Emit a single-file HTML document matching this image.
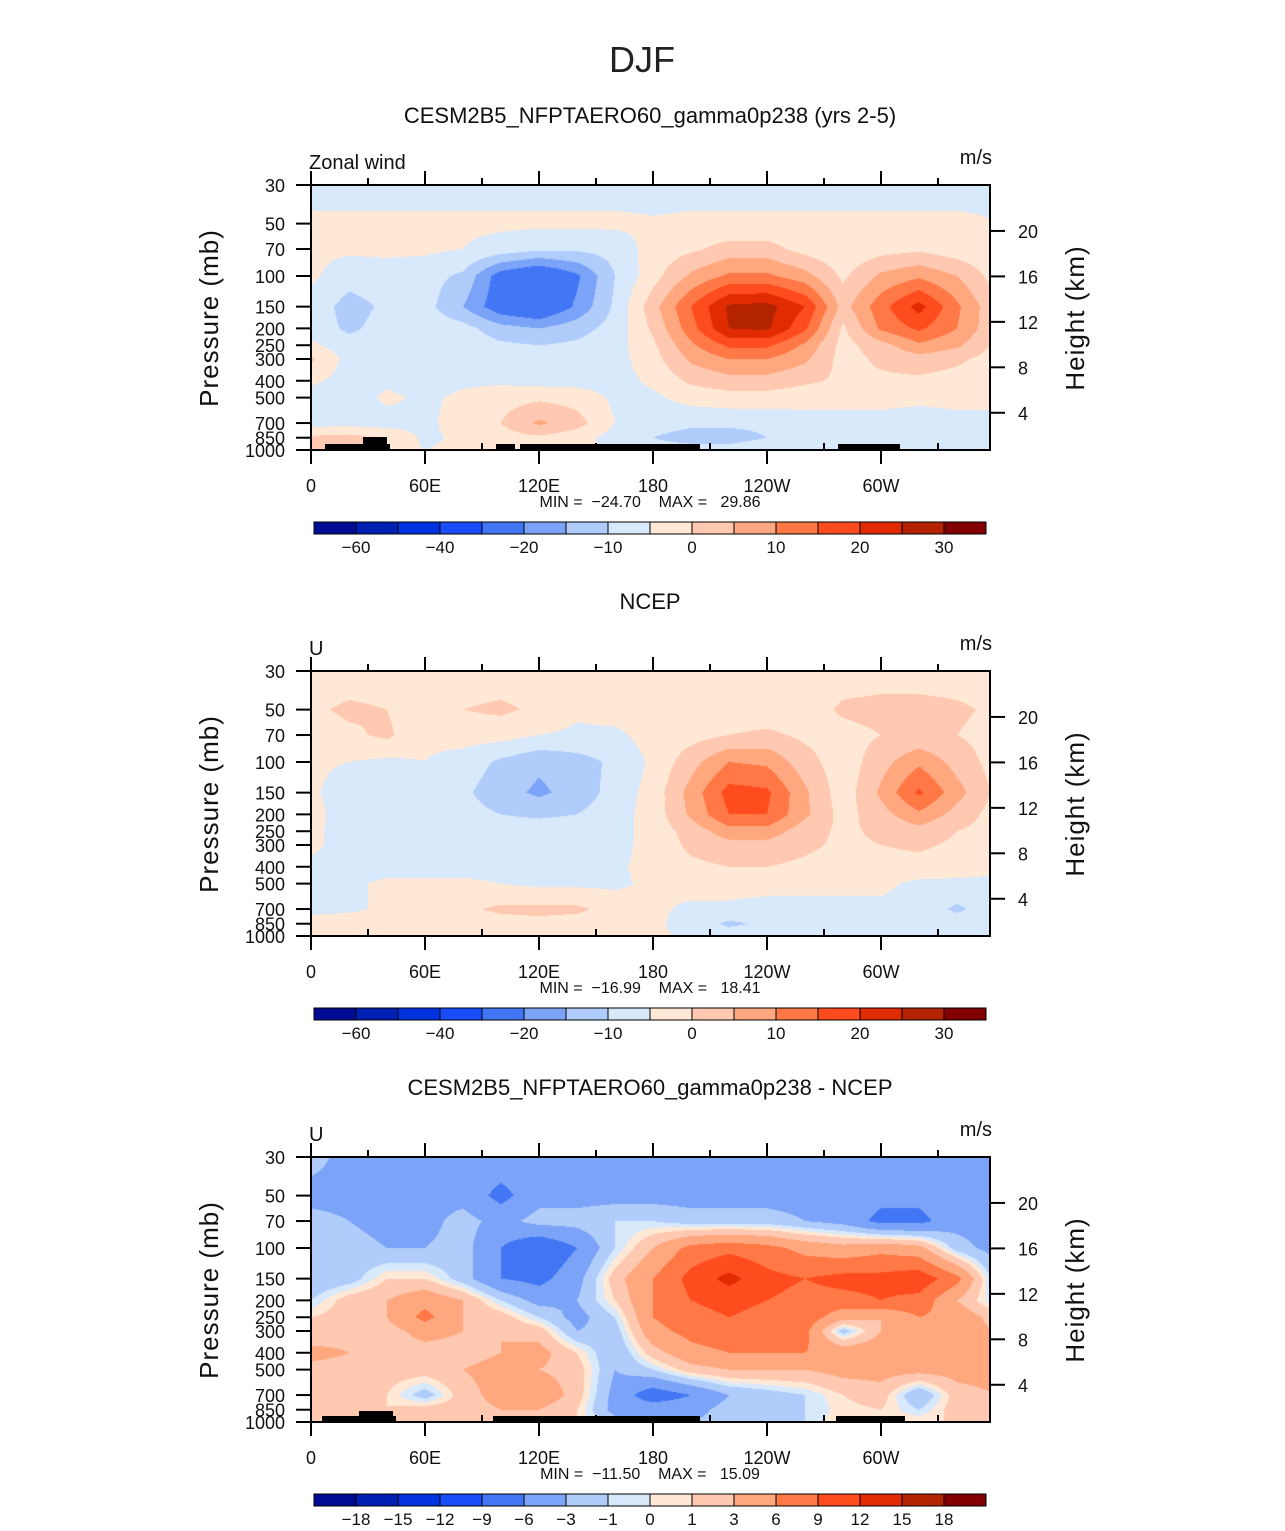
<!DOCTYPE html>
<html><head><meta charset="utf-8">
<style>
body{margin:0;background:#fff;}
#wrap{position:relative;width:1285px;height:1531px;overflow:hidden;font-family:"Liberation Sans",sans-serif;}
svg text{font-family:"Liberation Sans",sans-serif;}
</style></head>
<body>
<div id="wrap">
<svg id="fig" width="1285" height="1531" xmlns="http://www.w3.org/2000/svg" style="position:absolute;left:0;top:0">
<text x="642" y="72" font-size="36" text-anchor="middle" fill="#222" font-weight="300">DJF</text>
</svg>
</div>
<script>
const lons=[0,20,40,60,80,100,120,140,160,180,200,220,240,260,280,300,320,340,360];
const plevs=[30,50,70,100,150,200,250,300,400,500,700,850,1000];
const pressureTicks=[30,50,70,100,150,200,250,300,400,500,700,850,1000];
const heightTicks=[20,16,12,8,4];
const lonTickVals=[0,60,120,180,240,300];
const lonTickLabels=["0","60E","120E","180","120W","60W"];
const levelsFull=[-60,-50,-40,-30,-20,-15,-10,-5,0,5,10,15,20,25,30];
const labelsFull=["-60","","-40","","-20","","-10","","0","","10","","20","","30"];
const levelsDiff=[-18,-15,-12,-9,-6,-3,-1,0,1,3,6,9,12,15,18];
const labelsDiff=["-18","-15","-12","-9","-6","-3","-1","0","1","3","6","9","12","15","18"];
const colors=["#000c94","#0020b4","#0033e0","#1a4dfa","#4276f5","#7ba3f7","#b0ccfa","#d8e9fc","#ffe8d6","#ffc8b0","#ffa880","#ff7845","#ff4c1e","#e02c00","#b42300","#820000"];
const modelU=[
[-7,-7,-7,-7,-7,-7,-7,-7,-7,-7,-7,-7,-7,-7,-7,-7,-7,-7,-6],
[-4,-4,-4,-4,-4,-4,-4,-4,-4,-4.5,-4,-4,-4,-4,-4,-4,-4,-4,-5],
[-4,-4,-4,-4,-5,-7,-9,-9,-8,-3,-1,2,2,-2,-4,-2,-1,-3,-4],
[-4,-8,-7,-8,-11,-23,-27,-21,-10,-2,6,11,11,7,-1,6,9,5,-2],
[-7,-12,-9,-8,-15,-24,-27,-19,-9,3,15,26,27,20,3,13,22,11,1],
[-7,-11,-8,-7,-8,-13,-15,-12,-8,1,13,25,26,16,-1,11,16,10,1],
[-4,-8,-7,-7,-7,-9,-10,-9,-7,-1,9,16,16,9,-2,3,9,6,-1],
[1,-7,-7,-7,-7,-7,-7,-7,-7,-2,6,10,10,6,-2,1,3,1,-2],
[-4,-7,-6,-7,-6,-6,-7,-7,-7,-4,1,3,3,1,-1,-1,-1,-2,-3],
[-7,-8,-4,-6,-4,-2,-1,-2,-6,-6,-3,-2,-2,-3,-4,-4,-4,-4,-4],
[-7,-7,-7,-6,-3,0,6,2,-5,-8,-9,-9,-9,-7,-6,-6,-7,-6,-6],
[1,2,-1,-6,-4,-2,-1,-3,-7,-10,-12,-12,-10,-7,-6,-6,-6,-6,-6],
[1,1,-3,-5,-4,-4,-3,-4,-6,-8,-8,-8,-7,-6,-6,-6,-6,-6,-6]];
const ncepU=[
[-3,-3,-3,-3,-3,-3,-3,-3,-3,-3,-3,-3,-3,-3,-3,-3,-3,-3,-3],
[-1,1,0,-4,0,1,-1,-4,-3,-3,-3,-3,-3,-3,1,2,2,1,-1],
[-3,-1,1,-4,-3,-3,-5,-6,-6,-3,-2,0,1,-1,-2,0,1,0,-2],
[-4,-5,-6,-5,-7,-11,-14,-12,-9,-4,3,10,9,2,-3,3,9,3,-2],
[-4,-8,-8,-7,-9,-13,-16,-13,-8,-3,7,17,16,6,-3,6,16,7,-1],
[-3,-8,-7,-7,-8,-10,-11,-10,-7,-3,6,15,15,6,-2,3,9,3,-2],
[-4,-7,-7,-7,-7,-7,-7,-7,-7,-3,2,8,8,2,-1,1,3,0,-2],
[-4,-7,-7,-7,-7,-7,-7,-7,-7,-3,1,3,3,1,-1,0,1,-1,-3],
[-6,-7,-7,-7,-7,-7,-7,-7,-6,-3,-1,0,0,-1,-2,-2,-2,-3,-4],
[-6,-6,-4,-4,-4,-5,-6,-6,-6,-4,-3,-3,-3,-4,-4,-4,-6,-6,-6],
[-7,-6,-4,-3,-1,1,1,1,-2,-4,-6,-6,-7,-6,-6,-6,-7,-11,-7],
[-2,-2,-3,-3,-2,-2,-1,-2,-4,-4,-7,-11,-9,-7,-7,-8,-7,-7,-7],
[-4,-3,-4,-4,-4,-4,-4,-4,-4,-4,-6,-7,-7,-6,-6,-6,-6,-6,-6]];
const diffU=[
[-2,-4,-4,-4,-4,-4,-4,-4,-4,-4,-4,-4,-4,-4,-4,-4,-4,-4,-4],
[-4,-4,-4,-4,-4,-7,-4,-4,-4,-4,-4,-4,-4,-4,-4,-5,-5,-4,-4],
[-2,-3,-4,-4,-2,-4,-2,-2,-1,-1,-2,-2,-2,-3,-4,-7,-7,-4,-4],
[-3,-2,-3,-3,-2,-6,-9,-6,-1,3,7,8,7,5,4,5,4,-2,-4],
[-3,-2,1,1,-2,-6,-7,-4,2,6,10,13,10,9,10,10,11,7,-2],
[-1,2,3,5,3,-1,-4,-3,1,6,9,10,9,8,8,9,8,3,-1],
[1,2,3,7,3,2,-1,-4,-1,6,8,9,8,8,4,3,6,5,2],
[1,2,2,4,3,3,2,-3,-2,5,7,8,8,7,-2,3,5,4,3],
[4,3,2,2,2,3,4,1,-3,2,5,6,6,6,5,5,5,4,4],
[2,2,2,2,3,4,3,2,-3,-1,2,3,3,3,4,4,4,4,4],
[2,1,1,-2,2,4,5,2,-4,-8,-6,-3,-2,-1,1,2,-3,2,3],
[2,1,1,2,2,3,3,1,-4,-4,-4,-2,-2,-1,0.5,1,-1,2,2],
[2,1,1,1,1,1,1,1,-2,-3,-3,-2,-2,-1,1,1,1,1,1]];

const svg=document.getElementById('fig');
const NS='http://www.w3.org/2000/svg';
const X0=311,X1=990,PW=679,PH=265;
function xOf(lon){return X0+lon*1.9;}
function yOf(p,top){return top+PH*Math.log(p/30)/Math.log(1000/30);}
function el(tag,attrs,parent){const e=document.createElementNS(NS,tag);for(const k in attrs)e.setAttribute(k,attrs[k]);(parent||svg).appendChild(e);return e;}
function txt(x,y,s,size,anchor,parent){const t=el('text',{x:x,y:y,'font-size':size,'text-anchor':anchor||'middle',fill:'#111'},parent);t.textContent=s;return t;}
function colorFor(v,levels){let i=0;while(i<levels.length&&v>=levels[i])i++;return colors[i];}
function interp(field,lon,p){
  let i=Math.min(lons.length-2,Math.max(0,Math.floor(lon/20)));let fx=(lon-lons[i])/20;fx=Math.max(0,Math.min(1,fx));
  let j=0;while(j<plevs.length-2&&p>plevs[j+1])j++;
  let fy=(Math.log(p)-Math.log(plevs[j]))/(Math.log(plevs[j+1])-Math.log(plevs[j]));fy=Math.max(0,Math.min(1,fy));
  const a=field[j][i],b=field[j][i+1],c=field[j+1][i],d=field[j+1][i+1];
  return (a*(1-fx)+b*fx)*(1-fy)+(c*(1-fx)+d*fx)*fy;}

function panel(top,field,levels,labels,title,left,minmax,id,topo){
  const g=el('g',{});
  
  
  const t=txt(650,top-62,title,22,'middle',g);
  
  
  const cv=document.createElement('canvas');cv.width=PW;cv.height=PH;
  const ctx=cv.getContext('2d');
  for(let y=0;y<PH;y++){const p=30*Math.exp((y+0.5)/PH*Math.log(1000/30));
    for(let x=0;x<PW;x+=1){const lon=(x+0.5)/1.9;const v=interp(field,lon,p);ctx.fillStyle=colorFor(v,levels);ctx.fillRect(x,y,1,1);}}
  cv.style.position='absolute';cv.style.left=X0+'px';cv.style.top=top+'px';
  
  
  document.getElementById('wrap').insertBefore(cv,svg);
  const bot=top+PH;
  topo.forEach(r=>{
    const rc=el('rect',{x:r[0],y:bot-r[2],width:r[1]-r[0],height:r[2],fill:'#000'},g);
    
    });
  const fr=el('rect',{x:X0,y:top,width:PW,height:PH,fill:'none',stroke:'#000','stroke-width':2},g);
  
  
  pressureTicks.forEach(p=>{const y=yOf(p,top);el('line',{x1:X0-15,x2:X0,y1:y,y2:y,stroke:'#000','stroke-width':2},g);
    const l=txt(285,y+7,String(p),18,'end',g);});
  for(let lon=0;lon<360;lon+=30){const x=xOf(lon);const major=lon%60===0;
    el('line',{x1:x,x2:x,y1:top,y2:top-(major?14:7),stroke:'#000','stroke-width':2},g);
    if(major)el('line',{x1:x,x2:x,y1:bot,y2:bot+14,stroke:'#000','stroke-width':2},g);
    else el('line',{x1:x,x2:x,y1:bot,y2:bot-7,stroke:'#000','stroke-width':2},g);}
  lonTickVals.forEach((v,k)=>{const l=txt(xOf(v),bot+42,lonTickLabels[k],18,'middle',g);});
  heightTicks.forEach(h=>{const p=1115*Math.exp(-h/6.65);const y=yOf(p,top);el('line',{x1:X1,x2:X1+15,y1:y,y2:y,stroke:'#000','stroke-width':2},g);
    const l=txt(1018,y+7,String(h),18,'start',g);});
  const lt=txt(309,top-16,left,20,'start',g);
  const rt=txt(992,top-21,'m/s',20,'end',g);
  const ya=txt(0,0,'Pressure (mb)',26,'middle',g);ya.setAttribute('transform','translate(218,'+(top+133)+') rotate(-90)');ya.setAttribute('letter-spacing','1');
  
  const ha=txt(0,0,'Height (km)',26,'middle',g);ha.setAttribute('transform','translate(1084,'+(top+133)+') rotate(-90)');ha.setAttribute('letter-spacing','1');
  
  const mm=txt(650,bot+57,minmax,16,'middle',g);mm.setAttribute('style','white-space:pre');
  const cy=bot+72;
  colors.forEach((c,k)=>{const r=el('rect',{x:314+k*42,y:cy,width:42,height:12,fill:c,stroke:'#000','stroke-width':1},g);
    });
  labels.forEach((s,k)=>{if(s==='')return;const l=txt(356+k*42,cy+31,s.replace('-','\u2212'),17,'middle',g);});
}
panel(185,modelU,levelsFull,labelsFull,'CESM2B5_NFPTAERO60_gamma0p238 (yrs 2-5)','Zonal wind','MIN =  \u221224.70    MAX =   29.86','model',[[325,390,6],[363,387,13],[496,515,6],[520,700,6],[838,900,6]]);
panel(671,ncepU,levelsFull,labelsFull,'NCEP','U','MIN =  \u221216.99    MAX =   18.41','ncep',[]);
panel(1157,diffU,levelsDiff,labelsDiff,'CESM2B5_NFPTAERO60_gamma0p238 - NCEP','U','MIN =  \u221211.50    MAX =   15.09','diff',[[322,396,6],[359,393,11],[493,700,6],[836,905,6]]);
</script>
</body></html>
